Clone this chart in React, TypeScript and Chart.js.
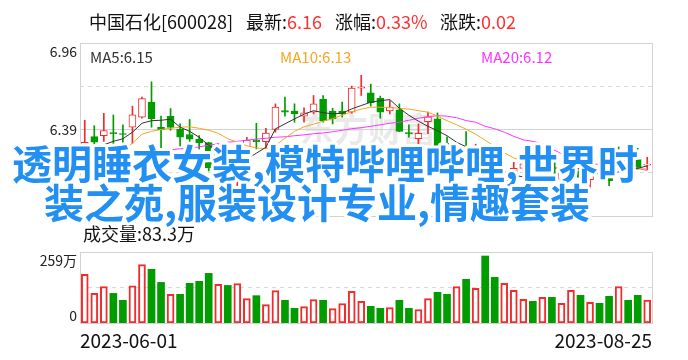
import React, { useEffect, useRef } from "react";
import { Chart, registerables } from "chart.js";

Chart.register(...registerables);

// ---------- data ----------
const dates = [
  "2023-06-01", "2023-06-02", "2023-06-05", "2023-06-06", "2023-06-07", "2023-06-08", "2023-06-09", "2023-06-12",
  "2023-06-13", "2023-06-14", "2023-06-15", "2023-06-16", "2023-06-19", "2023-06-20", "2023-06-21", "2023-06-26",
  "2023-06-27", "2023-06-28", "2023-06-29", "2023-06-30", "2023-07-03", "2023-07-04", "2023-07-05", "2023-07-06",
  "2023-07-07", "2023-07-10", "2023-07-11", "2023-07-12", "2023-07-13", "2023-07-14", "2023-07-17", "2023-07-18",
  "2023-07-19", "2023-07-20", "2023-07-21", "2023-07-24", "2023-07-25", "2023-07-26", "2023-07-27", "2023-07-28",
  "2023-07-31", "2023-08-01", "2023-08-02", "2023-08-03", "2023-08-04", "2023-08-07", "2023-08-08", "2023-08-09",
  "2023-08-10", "2023-08-11", "2023-08-14", "2023-08-15", "2023-08-16", "2023-08-17", "2023-08-18", "2023-08-21",
  "2023-08-22", "2023-08-23", "2023-08-24", "2023-08-25",
];

const opens = [
  6.187, 6.343, 6.349, 6.367, 6.361, 6.405, 6.471, 6.57, 6.405, 6.476, 6.393, 6.357, 6.326, 6.304, 6.15, 6.154,
  6.107, 6.207, 6.321, 6.31, 6.39, 6.515, 6.511, 6.478, 6.504, 6.588, 6.511, 6.511, 6.504, 6.663, 6.632, 6.595,
  6.513, 6.52, 6.37, 6.329, 6.441, 6.461, 6.299, 6.218, 6.266, 6.236, 6.236, 6.05, 6.035, 6.061, 6.134, 6.147,
  6.147, 6.191, 6.063, 6.107, 6.119, 6.059, 6.129, 6.096, 6.21, 6.2, 6.191, 6.155,
];
const highs = [
  6.451, 6.415, 6.497, 6.486, 6.421, 6.544, 6.603, 6.704, 6.478, 6.528, 6.427, 6.456, 6.35, 6.306, 6.296, 6.187,
  6.22, 6.339, 6.431, 6.398, 6.559, 6.603, 6.559, 6.532, 6.614, 6.614, 6.53, 6.57, 6.676, 6.747, 6.689, 6.61,
  6.581, 6.559, 6.421, 6.427, 6.505, 6.499, 6.342, 6.279, 6.376, 6.293, 6.253, 6.07, 6.134, 6.174, 6.185, 6.187,
  6.24, 6.218, 6.127, 6.185, 6.147, 6.134, 6.167, 6.121, 6.275, 6.27, 6.266, 6.207,
];
const lows = [
  6.16, 6.279, 6.312, 6.262, 6.299, 6.299, 6.464, 6.405, 6.253, 6.385, 6.281, 6.306, 6.262, 6.117, 6.121, 6.041,
  6.002, 6.187, 6.262, 6.266, 6.372, 6.478, 6.438, 6.438, 6.493, 6.438, 6.427, 6.471, 6.497, 6.614, 6.544, 6.464,
  6.493, 6.376, 6.339, 6.289, 6.362, 6.273, 6.213, 6.185, 6.174, 6.213, 6.045, 5.98, 6.002, 6.03, 6.088, 6.081,
  6.107, 6.081, 6.024, 6.096, 6.041, 5.997, 6.081, 6.02, 6.142, 6.14, 6.129, 6.125,
];
const closes = [
  6.306, 6.306, 6.383, 6.363, 6.357, 6.487, 6.593, 6.461, 6.388, 6.404, 6.34, 6.327, 6.301, 6.137, 6.271, 6.074,
  6.154, 6.321, 6.31, 6.367, 6.537, 6.504, 6.495, 6.5, 6.559, 6.449, 6.46, 6.493, 6.663, 6.671, 6.567, 6.504,
  6.537, 6.378, 6.362, 6.365, 6.474, 6.279, 6.24, 6.266, 6.227, 6.277, 6.06, 6.0, 6.078, 6.134, 6.163, 6.121,
  6.185, 6.09, 6.107, 6.152, 6.074, 6.112, 6.096, 6.053, 6.2, 6.15, 6.14, 6.16,
];

const ma5 = [
  6.207, 6.279, 6.289, 6.312, 6.329, 6.372, 6.431, 6.448, 6.451, 6.458, 6.405, 6.378, 6.339, 6.286, 6.24, 6.2,
  6.195, 6.195, 6.234, 6.273, 6.394, 6.427, 6.46, 6.491, 6.514, 6.501, 6.493, 6.497, 6.526, 6.548, 6.57, 6.58,
  6.587, 6.53, 6.484, 6.445, 6.411, 6.382, 6.349, 6.306, 6.276, 6.25, 6.21, 6.16, 6.114, 6.088, 6.078, 6.094,
  6.117, 6.137, 6.134, 6.134, 6.131, 6.121, 6.111, 6.104, 6.111, 6.121, 6.134, 6.15,
];
const ma10 = [
  6.131, 6.147, 6.167, 6.207, 6.253, 6.299, 6.359, 6.378, 6.39, 6.398, 6.405, 6.408, 6.398, 6.385, 6.365, 6.329,
  6.306, 6.283, 6.269, 6.263, 6.286, 6.332, 6.378, 6.408, 6.425, 6.445, 6.461, 6.484, 6.507, 6.524, 6.537, 6.537,
  6.534, 6.53, 6.524, 6.514, 6.504, 6.478, 6.448, 6.421, 6.392, 6.359, 6.319, 6.279, 6.236, 6.203, 6.18, 6.16,
  6.147, 6.137, 6.131, 6.127, 6.127, 6.124, 6.124, 6.127, 6.131, 6.131, 6.131, 6.13,
];
const ma20 = [
  6.2, 6.203, 6.21, 6.216, 6.223, 6.23, 6.236, 6.243, 6.25, 6.256, 6.263, 6.266, 6.276, 6.286, 6.296, 6.306,
  6.312, 6.319, 6.327, 6.332, 6.339, 6.342, 6.349, 6.355, 6.362, 6.367, 6.375, 6.385, 6.395, 6.402, 6.411, 6.421,
  6.431, 6.438, 6.451, 6.464, 6.474, 6.481, 6.478, 6.468, 6.449, 6.438, 6.411, 6.395, 6.372, 6.345, 6.322, 6.312,
  6.296, 6.263, 6.23, 6.203, 6.183, 6.17, 6.157, 6.15, 6.144, 6.138, 6.134, 6.12,
];

// volume in 万 (10k shares)
const volumes = [
  177.5, 108, 132.5, 108, 82.7, 136, 212.8, 195.8, 148, 104.6, 104.6, 144.7, 152, 181, 141, 137,
  143.5, 88.8, 99.7, 66.9, 118, 82.7, 53.5, 59.6, 85, 82.7, 52.3, 70.5, 115.5, 79, 60.8, 53.5,
  56, 82.7, 53.5, 48.6, 88.8, 111.9, 104.6, 132.5, 159.3, 126.5, 244.4, 166.6, 144.7, 119.2, 86.3, 79,
  93.6, 93.6, 71.7, 119.2, 101, 75.4, 71.7, 97.3, 132.5, 82.7, 101, 83.3,
];

const priceMin = 5.82;
const priceMax = 6.96;
const volMax = 259;
const signalIndex = [14];

const stockTitle = "中国石化[600028]";
const overlayLines = ["透明睡衣女装,模特哔哩哔哩,世界时", "装之苑,服装设计专业,情趣套装"];
const watermark = "东方财富";

// ---------- styles ----------
const FONT = '"Noto Sans CJK SC", "Noto Sans", sans-serif';
const RED = "#f22c2c";
const GREEN = "#009c00";
const FRAME = "#d2d2d2";
const MA_COLORS = ["#333333", "#f5a623", "#ff33ff"];

export default function App() {
  const mainRef = useRef<HTMLCanvasElement>(null);
  const volRef = useRef<HTMLCanvasElement>(null);

  useEffect(() => {
    const n = closes.length;
    const up = closes.map((c, i) => c >= opens[i]);
    const volUp = closes.map((c, i) => (i === 0 ? c >= opens[0] : c >= closes[i - 1]));
    const last = closes[n - 1];
    const prev = closes[n - 2];
    const chg = last - prev;
    const pct = (chg / prev) * 100;

    const hline = (ctx: CanvasRenderingContext2D, x1: number, x2: number, y: number) => {
      const yy = Math.floor(y) + 0.5;
      ctx.beginPath();
      ctx.moveTo(x1, yy);
      ctx.lineTo(x2, yy);
      ctx.stroke();
    };
    const frame = (ctx: CanvasRenderingContext2D, a: any) => {
      ctx.setLineDash([]);
      ctx.strokeStyle = FRAME;
      ctx.lineWidth = 1;
      ctx.strokeRect(Math.floor(a.left) + 0.5, Math.floor(a.top) + 0.5, Math.round(a.right - a.left), Math.round(a.bottom - a.top));
    };

    const mainDecor = {
      id: "mainDecor",
      beforeDatasetsDraw(chart: any) {
        const { ctx, chartArea: a, scales } = chart;
        const ys = scales.y;
        ctx.save();
        // watermark
        ctx.fillStyle = "rgba(0,0,0,0.085)";
        ctx.font = `bold 34px ${FONT}`;
        ctx.textAlign = "center";
        ctx.textBaseline = "middle";
        ctx.fillText(watermark, (a.left + a.right) / 2 + 2, (a.top + a.bottom) / 2);
        // grid
        const step = (priceMax - priceMin) / 4;
        for (let k = 1; k < 4; k++) {
          const v = priceMin + step * k;
          ctx.strokeStyle = k === 2 ? FRAME : "#d9d9d9";
          ctx.setLineDash(k === 2 ? [] : [4, 4]);
          hline(ctx, a.left, a.right, ys.getPixelForValue(v));
        }
        frame(ctx, a);
        ctx.restore();
      },
      afterDraw(chart: any) {
        const { ctx, chartArea: a, scales } = chart;
        const ys = scales.y;
        const xs = scales.x;
        ctx.save();
        // y labels
        ctx.font = `14px ${FONT}`;
        ctx.fillStyle = "#222";
        ctx.textAlign = "right";
        ctx.textBaseline = "top";
        ctx.fillText(priceMax.toFixed(2), a.left - 3, a.top + 2);
        ctx.textBaseline = "middle";
        const mid = (priceMax + priceMin) / 2;
        ctx.fillText(mid.toFixed(2), a.left - 3, ys.getPixelForValue(mid));
        ctx.textBaseline = "bottom";
        ctx.fillText(priceMin.toFixed(2), a.left - 3, a.bottom - 2);

        // title
        ctx.font = `18px ${FONT}`;
        ctx.textAlign = "left";
        ctx.textBaseline = "middle";
        const parts: [string, string, number | null][] = [
          [stockTitle, "#111", 89],
          ["最新:", "#111", 246],
          [last.toFixed(2), "#ff3030", null],
          ["涨幅:", "#111", 335],
          [pct.toFixed(2) + "%", "#ff3030", null],
          ["涨跌:", "#111", 440],
          [chg.toFixed(2), "#ff3030", null],
        ];
        let cx = 0;
        parts.forEach(([t, c, x]) => {
          if (x !== null) cx = x;
          ctx.fillStyle = c;
          ctx.fillText(t, cx, 22);
          cx += ctx.measureText(t).width;
        });

        // MA legend
        ctx.font = `15px ${FONT}`;
        const legends: [string, number[], number][] = [
          ["MA5", ma5, 90],
          ["MA10", ma10, 280],
          ["MA20", ma20, 481],
        ];
        legends.forEach(([name, arr, x], k) => {
          ctx.fillStyle = MA_COLORS[k];
          ctx.fillText(`${name}:${arr[arr.length - 1].toFixed(2)}`, x, 57);
        });

        // signal marker
        signalIndex.forEach((i) => {
          const x = xs.getPixelForValue(i);
          const y = a.bottom - 10;
          ctx.fillStyle = "#ff0000";
          ctx.beginPath();
          ctx.moveTo(x, y - 6);
          ctx.lineTo(x - 3, y - 2);
          ctx.lineTo(x + 3, y - 2);
          ctx.closePath();
          ctx.fill();
          ctx.font = `10px ${FONT}`;
          ctx.textAlign = "center";
          ctx.textBaseline = "top";
          ctx.fillText("S", x, y - 1);
        });

        // overlay text
        ctx.font = `bold 40px ${FONT}`;
        ctx.textAlign = "left";
        ctx.textBaseline = "middle";
        ctx.lineJoin = "round";
        const pos: [number, number][] = [
          [12, 164],
          [44, 203],
        ];
        overlayLines.forEach((t, k) => {
          ctx.strokeStyle = "#ffffff";
          ctx.lineWidth = 6;
          ctx.strokeText(t, pos[k][0], pos[k][1]);
          ctx.fillStyle = "#2190f2";
          ctx.fillText(t, pos[k][0], pos[k][1]);
        });
        ctx.restore();
      },
    };

    const volDecor = {
      id: "volDecor",
      beforeDatasetsDraw(chart: any) {
        const { ctx, chartArea: a, scales } = chart;
        ctx.save();
        ctx.strokeStyle = "#d9d9d9";
        ctx.lineWidth = 1;
        ctx.setLineDash([4, 4]);
        hline(ctx, a.left, a.right, scales.y.getPixelForValue(volMax / 2));
        frame(ctx, a);
        ctx.restore();
      },
      afterDraw(chart: any) {
        const { ctx, chartArea: a } = chart;
        ctx.save();
        ctx.fillStyle = "#222";
        ctx.font = `14px ${FONT}`;
        ctx.textAlign = "right";
        ctx.textBaseline = "top";
        ctx.fillText(`${volMax}万`, a.left - 3, a.top + 2);
        ctx.textBaseline = "alphabetic";
        ctx.fillText("0", a.left - 3, a.bottom - 2);

        ctx.font = `18px ${FONT}`;
        ctx.textAlign = "left";
        ctx.textBaseline = "middle";
        ctx.fillStyle = "#111";
        ctx.fillText(`成交量:${volumes[volumes.length - 1].toFixed(1)}万`, 83, 234);

        ctx.font = `19px ${FONT}`;
        ctx.textBaseline = "alphabetic";
        ctx.textAlign = "left";
        ctx.fillText(dates[0], a.left, 348);
        ctx.textAlign = "right";
        ctx.fillText(dates[dates.length - 1], a.right, 348);
        ctx.restore();
      },
    };

    const common = {
      responsive: false,
      animation: false as const,
      devicePixelRatio: 1,
      events: [] as any[],
    };

    const main = new Chart(mainRef.current!, {
      type: "bar",
      data: {
        labels: dates,
        datasets: [
          {
            type: "line" as const,
            label: "MA5",
            data: ma5,
            borderColor: MA_COLORS[0],
            borderWidth: 1,
            pointRadius: 0,
            tension: 0,
            order: 0,
          },
          {
            type: "line" as const,
            label: "MA10",
            data: ma10,
            borderColor: MA_COLORS[1],
            borderWidth: 1,
            pointRadius: 0,
            tension: 0,
            order: 0,
          },
          {
            type: "line" as const,
            label: "MA20",
            data: ma20,
            borderColor: MA_COLORS[2],
            borderWidth: 1,
            pointRadius: 0,
            tension: 0,
            order: 0,
          },
          {
            type: "bar" as const,
            label: "body",
            data: opens.map((o, i) => [o, closes[i]]) as any,
            backgroundColor: up.map((u) => (u ? "#ffffff" : GREEN)),
            borderColor: up.map((u) => (u ? RED : GREEN)),
            borderWidth: 1,
            borderSkipped: false,
            barThickness: 7,
            minBarLength: 1,
            grouped: false,
            order: 1,
          },
          {
            type: "bar" as const,
            label: "wick",
            data: lows.map((l, i) => [l, highs[i]]) as any,
            backgroundColor: up.map((u) => (u ? RED : GREEN)),
            borderWidth: 0,
            barThickness: 1,
            grouped: false,
            order: 2,
          },
        ],
      },
      options: {
        ...common,
        layout: { padding: { left: 80, right: 36, top: 43, bottom: 144 } },
        scales: {
          x: { display: false, offset: true },
          y: { display: false, min: priceMin, max: priceMax },
        },
        plugins: { legend: { display: false }, tooltip: { enabled: false } },
      },
      plugins: [mainDecor],
    } as any);

    const vol = new Chart(volRef.current!, {
      type: "bar",
      data: {
        labels: dates,
        datasets: [
          {
            label: "vol",
            data: volumes,
            backgroundColor: volUp.map((u) => (u ? "#ffffff" : GREEN)),
            borderColor: volUp.map((u) => (u ? RED : GREEN)),
            borderWidth: volUp.map((u) => (u ? 2 : 0)),
            borderSkipped: false,
            barThickness: 7,
          },
        ],
      },
      options: {
        ...common,
        layout: { padding: { left: 80, right: 36, top: 252, bottom: 37 } },
        scales: {
          x: { display: false, offset: true },
          y: { display: false, min: 0, max: volMax },
        },
        plugins: { legend: { display: false }, tooltip: { enabled: false } },
      },
      plugins: [volDecor],
    } as any);

    return () => {
      main.destroy();
      vol.destroy();
    };
  }, []);

  return (
    <div style={{ position: "fixed", left: 0, top: 0, width: 688, height: 360, background: "#ffffff" }}>
      <canvas ref={volRef} width={688} height={360} style={{ position: "absolute", left: 0, top: 0 }} />
      <canvas ref={mainRef} width={688} height={360} style={{ position: "absolute", left: 0, top: 0 }} />
    </div>
  );
}
